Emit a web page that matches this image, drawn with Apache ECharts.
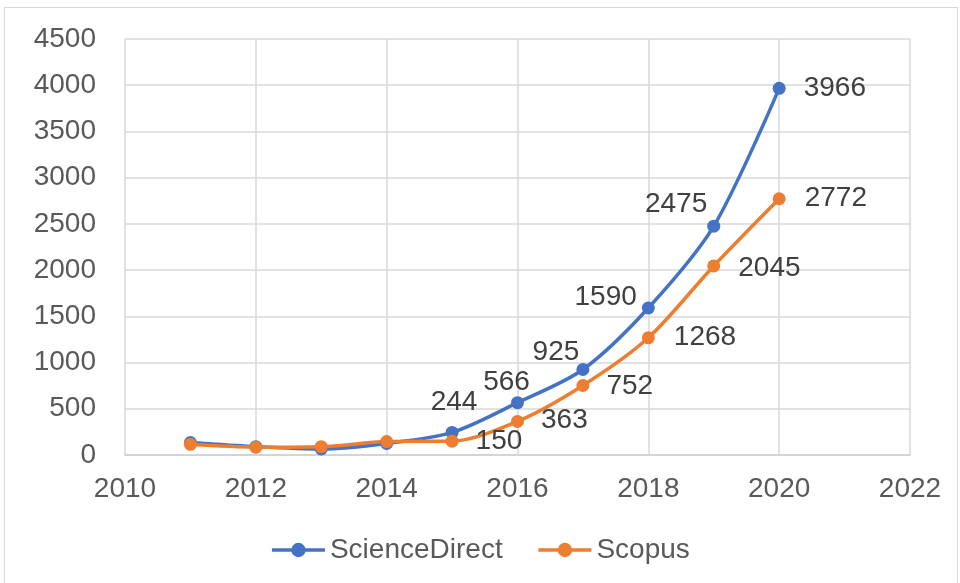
<!DOCTYPE html>
<html>
<head>
<meta charset="utf-8">
<script src="https://cdn.jsdelivr.net/npm/echarts@6/dist/echarts.min.js"></script>
<style>
  html, body { margin: 0; padding: 0; background: #fff; }
  #chart { width: 960px; height: 583px; }
  .frame { position: absolute; left: 4px; top: 7px; width: 954px; height: 580px; border: 1px solid #d9d9d9; box-sizing: border-box; pointer-events: none; }
</style>
</head>
<body>
<div id="chart"></div>
<div class="frame"></div>
<script>
const years = [2011, 2012, 2013, 2014, 2015, 2016, 2017, 2018, 2019, 2020];
const scienceDirect = [135, 90, 65, 125, 244, 566, 925, 1590, 2475, 3966];
const scopus = [115, 85, 90, 145, 150, 363, 752, 1268, 2045, 2772];
const firstLabelIdx = 4; // labels only from 2015 on

// label placement, by index (style only)
const sdLabelPos = {
  4: { position: "top", offset: [2, -5] },
  5: { position: "top", offset: [-11, 5] },
  6: { position: "top", offset: [-27, 8] },
  7: { position: "left", offset: [0, -11] },
  8: { position: "left", offset: [5, -22] },
  9: { position: "right", offset: [13, 0] },
};
const scLabelPos = {
  4: { position: "right", offset: [12, 0] },
  5: { position: "right", offset: [12, -1] },
  6: { position: "right", offset: [12, 1] },
  7: { position: "right", offset: [14, 0] },
  8: { position: "right", offset: [13, 2] },
  9: { position: "right", offset: [14, 0] },
};

const buildData = (vals, pos) =>
  vals.map((v, i) => ({
    value: [years[i], v],
    label: i >= firstLabelIdx ? { show: true, ...pos[i] } : { show: false },
  }));

const labelStyle = {
  color: "#404040",
  fontSize: 28,
  fontFamily: "Liberation Sans, Arial, sans-serif",
  formatter: (p) => p.value[1],
};

const chart = echarts.init(document.getElementById("chart"));
chart.setOption({
  animation: false,
  textStyle: { fontFamily: "Liberation Sans, Arial, sans-serif" },
  grid: { left: 125, right: 50, top: 39, bottom: 128 },
  legend: {
    bottom: 14,
    left: "center",
    itemWidth: 53,
    itemHeight: 18,
    itemGap: 34,
    lineStyle: { width: 3.5 },
    textStyle: { color: "#595959", fontSize: 28 },
    data: ["ScienceDirect", "Scopus"],
  },
  xAxis: {
    type: "value",
    min: 2010,
    max: 2022,
    interval: 2,
    axisLine: { show: true, lineStyle: { color: "#d0d0d0", width: 1.5 } },
    axisTick: { show: false },
    axisLabel: { color: "#595959", fontSize: 28, margin: 20, formatter: (v) => String(v) },
    splitLine: { show: true, lineStyle: { color: "#d9d9d9", width: 1.5 } },
  },
  yAxis: {
    type: "value",
    min: 0,
    max: 4500,
    interval: 500,
    axisLine: { show: false },
    axisTick: { show: false },
    axisLabel: { color: "#595959", fontSize: 28, margin: 29, formatter: (v) => String(v) },
    splitLine: { show: true, lineStyle: { color: "#d9d9d9", width: 1.5 } },
  },
  series: [
    {
      name: "ScienceDirect",
      type: "line",
      smooth: 0.3,
      symbol: "circle",
      symbolSize: 13,
      itemStyle: { color: "#4472C4" },
      lineStyle: { color: "#4472C4", width: 3.5 },
      label: labelStyle,
      data: buildData(scienceDirect, sdLabelPos),
    },
    {
      name: "Scopus",
      type: "line",
      smooth: 0.3,
      symbol: "circle",
      symbolSize: 13,
      itemStyle: { color: "#ED7D31" },
      lineStyle: { color: "#ED7D31", width: 3.5 },
      label: labelStyle,
      data: buildData(scopus, scLabelPos),
    },
  ],
});
</script>
</body>
</html>
